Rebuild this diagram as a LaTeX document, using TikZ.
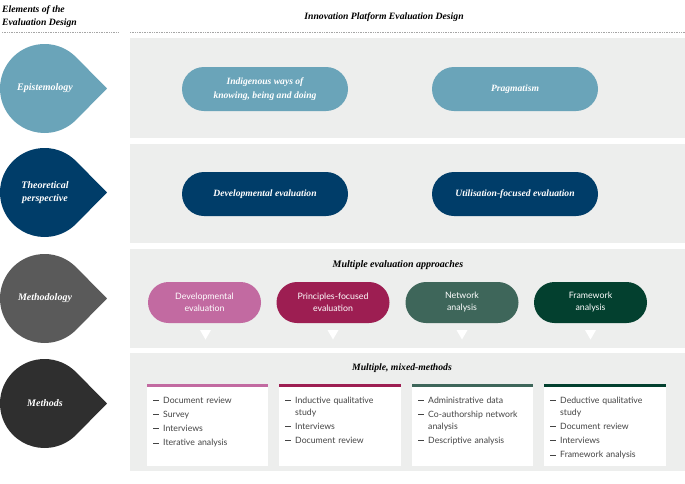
\documentclass[tikz,border=0pt]{standalone}
\usepackage{fontspec}
\setmainfont{Liberation Serif}
\newfontfamily\sansf{Lato}
\definecolor{panelgray}{HTML}{EDEEED}
\definecolor{epiblue}{HTML}{6AA4B9}
\definecolor{navy}{HTML}{003D69}
\definecolor{methgray}{HTML}{5A5A5A}
\definecolor{darkgray}{HTML}{2F2F2F}
\definecolor{cpink}{HTML}{C26AA1}
\definecolor{ccrimson}{HTML}{9D1E52}
\definecolor{cteal}{HTML}{3E665A}
\definecolor{cdgreen}{HTML}{03402F}
\definecolor{txtgray}{HTML}{444444}
\newcommand\itm[1]{\par\hangindent=10pt\hangafter=1\noindent\makebox[10pt][l]{\rule[2.6pt]{6pt}{0.55pt}}#1}
\tikzset{
  panel/.style={fill=panelgray, draw=none},
  head/.style={font=\fontsize{9.7}{13}\selectfont\bfseries\itshape, text=black},
  droplabel/.style={font=\fontsize{10}{13}\selectfont\bfseries\itshape, text=white, align=center},
  bigpill/.style={draw=none, rounded corners=22pt, minimum width=166pt, minimum height=44pt, inner sep=0pt,
     font=\fontsize{9.6}{14}\selectfont\bfseries\itshape, text=white, align=center},
  smallpill/.style={draw=none, rounded corners=20.5pt, minimum width=113pt, minimum height=41pt, inner sep=0pt,
     font=\sansf\fontsize{8.8}{12}\selectfont, text=white, align=center},
  tri/.style={fill=white, draw=none},
  mbox/.style={fill=white, draw=none},
  mtext/.style={font=\sansf\fontsize{8.7}{12}\selectfont\setlength{\parskip}{2.3pt}, text=txtgray, text width=114pt, align=left, inner sep=0pt, anchor=north west},
  dotline/.style={draw=gray!70, line width=0.6pt, dash pattern=on 0.8pt off 0.9pt},
}
\newcommand\dropat[2]{% #1 center y, #2 color
  \fill[#2] (107,#1) -- ({44.5+44.5*cos(44.6)},{#1-44.5*sin(44.6)})
    arc[start angle=-44.6, end angle=-315.4, radius=44.5] -- cycle;}
\begin{document}
\begin{tikzpicture}[x=1pt,y=-1pt]
\useasboundingbox (0,0) rectangle (685,483);
\fill[white] (0,0) rectangle (685,483);
% headers
\node[head, anchor=north west, align=left, inner sep=0pt] (hleft) at (2,5) {Elements of the\\Evaluation Design};
\node[head, inner sep=0pt] (hright) at (384,17) {Innovation Platform Evaluation Design};
\coordinate (dl1) at (2,32); \coordinate (dl2) at (118,32);
\coordinate (dr1) at (130,32); \coordinate (dr2) at (685,32);
\draw[dotline] (dl1) -- (dl2);
\draw[dotline] (dr1) -- (dr2);
% panels
\fill[panel] (130,38) rectangle (685,138);
\fill[panel] (130,144) rectangle (685,243);
\fill[panel] (130,249) rectangle (685,348);
\fill[panel] (130,353) rectangle (685,471);
% drops
\dropat{88.5}{epiblue}
\dropat{192.5}{navy}
\dropat{298.5}{methgray}
\dropat{403.5}{darkgray}
\node[droplabel] (d1) at (45,88.5) {Epistemology};
\node[droplabel] (d2) at (45,192.5) {Theoretical\\perspective};
\node[droplabel] (d3) at (45,298.5) {Methodology};
\node[droplabel] (d4) at (45,403.5) {Methods};
% row 1
\node[bigpill, fill=epiblue] (p11) at (265,89) {Indigenous ways of\\knowing, being and doing};
\node[bigpill, fill=epiblue] (p12) at (515,89) {Pragmatism};
% row 2
\node[bigpill, fill=navy] (p21) at (265,194) {Developmental evaluation};
\node[bigpill, fill=navy] (p22) at (515,194) {Utilisation-focused evaluation};
% row 3
\node[head, font=\fontsize{10}{12}\selectfont\bfseries\itshape] (t3) at (398,265) {Multiple evaluation approaches};
\node[smallpill, fill=cpink] (a1) at (204.5,302.5) {Developmental\\evaluation};
\node[smallpill, fill=ccrimson] (a2) at (333,302.5) {Principles-focused\\evaluation};
\node[smallpill, fill=cteal] (a3) at (462,302.5) {Network\\analysis};
\node[smallpill, fill=cdgreen] (a4) at (590.5,302.5) {Framework\\analysis};
\foreach \x/\n in {205.5/1,333/2,462/3,590.5/4}{
  \fill[tri] (\x-5.5,330) -- (\x+5.5,330) -- (\x,339.5) -- cycle;
}
% row 4
\node[head, font=\fontsize{9.7}{12}\selectfont\bfseries\itshape] (t4) at (402,368) {Multiple, mixed-methods};
\foreach \l/\r/\c in {147/268/cpink,279/401/ccrimson,412/533/cteal,544/666/cdgreen}{
  \fill[mbox] (\l,384) rectangle (\r,466);
  \fill[\c] (\l,384) rectangle (\r,387);
}
\node[mtext] (m1) at (153,388.5) {\itm{Document review}\itm{Survey}\itm{Interviews}\itm{Iterative analysis}};
\node[mtext] (m2) at (285,388.5) {\itm{Inductive qualitative\newline study}\itm{Interviews}\itm{Document review}};
\node[mtext] (m3) at (418,388.5) {\itm{Administrative data}\itm{Co-authorship network\newline analysis}\itm{Descriptive analysis}};
\node[mtext] (m4) at (550,388.5) {\itm{Deductive qualitative\newline study}\itm{Document review}\itm{Interviews}\itm{Framework analysis}};
\end{tikzpicture}
\end{document}
